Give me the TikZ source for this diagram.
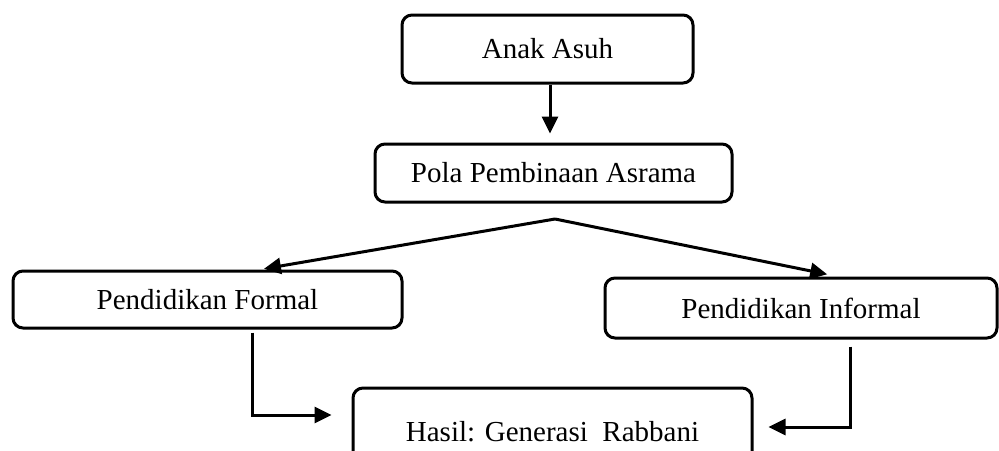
\documentclass[tikz,border=0pt]{standalone}
\usepackage{fontspec}
\setmainfont{Liberation Serif}
\usetikzlibrary{arrows.meta,calc}
\begin{document}
\begin{tikzpicture}[x=1pt,y=-1pt,
  box/.style={draw,line width=3pt,rounded corners=10pt,inner sep=0pt,
    font=\fontsize{29}{34}\selectfont},
  arr/.style={line width=3pt,-{Triangle[length=17pt,width=16pt]}}]
\useasboundingbox (0,0) rectangle (999,450);
\clip (0,0) rectangle (999,450);
\node[box,minimum width=291pt,minimum height=68pt] (anak) at (547.5,49) {Anak Asuh};
\node[box,minimum width=357pt,minimum height=58pt] (pola) at (553.5,173) {Pola Pembinaan Asrama};
\node[box,minimum width=389pt,minimum height=57pt] (formal) at (207.5,299.5) {Pendidikan Formal};
\node[box,minimum width=392pt,minimum height=60pt] (informal) at (801,308) {Pendidikan Informal};
\node[box,minimum width=399pt,minimum height=88pt] (hasil) at (552.5,432) {Hasil: Generasi\ \ Rabbani};
\coordinate (apex) at (555,219);
\draw[arr,shorten >=9pt] ([xshift=2.5pt]anak.south) -- ([xshift=-3.5pt]pola.north);
\draw[arr,shorten >=4pt] (apex) -- ([xshift=52.5pt]formal.north);
\draw[arr,shorten >=11pt] (apex) -- ([xshift=37pt]informal.north);
\draw[arr,shorten <=3pt,shorten >=20pt] ([xshift=44.5pt]formal.south) |- ([yshift=17pt]hasil.west);
\draw[arr,shorten <=7pt,shorten >=15pt] ([xshift=49pt]informal.south) |- ([yshift=5pt]hasil.east);
\end{tikzpicture}
\end{document}
